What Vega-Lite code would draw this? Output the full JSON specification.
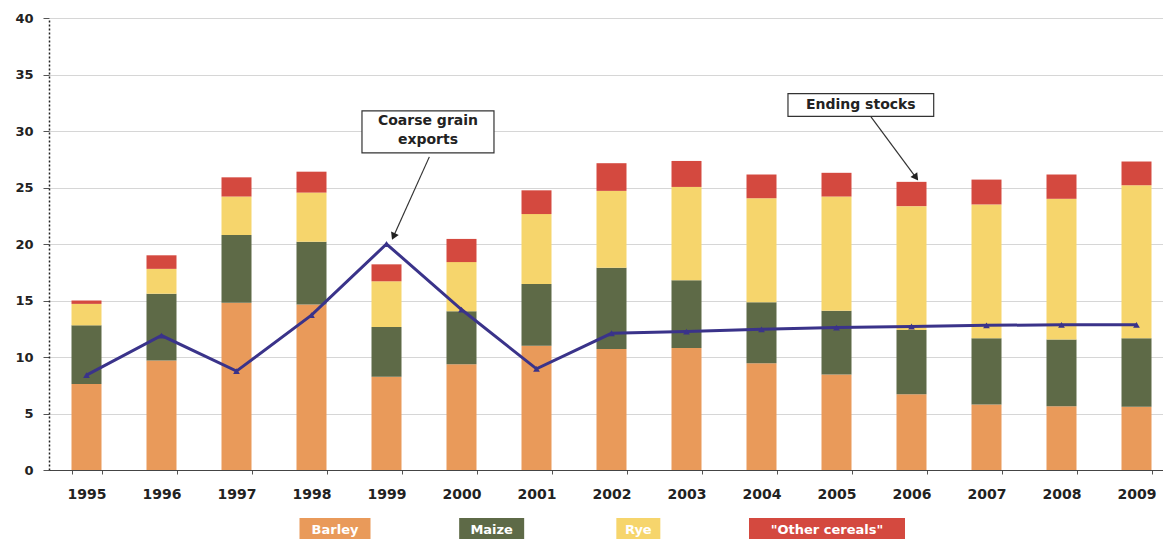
{
  "$schema": "https://vega.github.io/schema/vega-lite/v6.json",
  "background": "white",
  "padding": {"top": 12, "left": 9, "right": 0, "bottom": 0},
  "spacing": 17,
  "config": {
    "view": {"stroke": null},
    "font": "DejaVu Sans"
  },
  "datasets": {
    "grains": [
      {"year": 1995, "Barley": 7.6, "Maize": 5.2, "Rye": 1.9, "Other cereals": 0.3, "exports": 8.4},
      {"year": 1996, "Barley": 9.7, "Maize": 5.9, "Rye": 2.2, "Other cereals": 1.2, "exports": 11.9},
      {"year": 1997, "Barley": 14.8, "Maize": 6.0, "Rye": 3.4, "Other cereals": 1.7, "exports": 8.75},
      {"year": 1998, "Barley": 14.65, "Maize": 5.55, "Rye": 4.35, "Other cereals": 1.85, "exports": 13.7},
      {"year": 1999, "Barley": 8.25, "Maize": 4.4, "Rye": 4.05, "Other cereals": 1.5, "exports": 20.0},
      {"year": 2000, "Barley": 9.35, "Maize": 4.7, "Rye": 4.35, "Other cereals": 2.05, "exports": 14.2},
      {"year": 2001, "Barley": 11.0, "Maize": 5.45, "Rye": 6.2, "Other cereals": 2.1, "exports": 8.95},
      {"year": 2002, "Barley": 10.7, "Maize": 7.2, "Rye": 6.8, "Other cereals": 2.45, "exports": 12.1},
      {"year": 2003, "Barley": 10.8, "Maize": 6.0, "Rye": 8.25, "Other cereals": 2.3, "exports": 12.25},
      {"year": 2004, "Barley": 9.45, "Maize": 5.4, "Rye": 9.2, "Other cereals": 2.1, "exports": 12.45},
      {"year": 2005, "Barley": 8.45, "Maize": 5.65, "Rye": 10.1, "Other cereals": 2.1, "exports": 12.6},
      {"year": 2006, "Barley": 6.7, "Maize": 5.7, "Rye": 10.95, "Other cereals": 2.15, "exports": 12.7},
      {"year": 2007, "Barley": 5.8, "Maize": 5.85, "Rye": 11.85, "Other cereals": 2.2, "exports": 12.8},
      {"year": 2008, "Barley": 5.65, "Maize": 5.9, "Rye": 12.45, "Other cereals": 2.15, "exports": 12.85},
      {"year": 2009, "Barley": 5.6, "Maize": 6.05, "Rye": 13.55, "Other cereals": 2.1, "exports": 12.85}
    ],
    "callouts": [
      {"x0": 1998.673, "x1": 2000.433, "y0": 28.06, "y1": 31.78, "cx": 1999.553, "cy": 30.9, "label": "Coarse grain\nexports"},
      {"x0": 2004.353, "x1": 2006.296, "y0": 31.3, "y1": 33.31, "cx": 2005.324, "cy": 32.3, "label": "Ending stocks"}
    ],
    "pointers": [
      {"target": "exports", "x0": 1999.571, "y0": 27.71, "x1": 1999.093, "y1": 20.66},
      {"target": "stocks", "x0": 2005.46, "y0": 31.25, "x1": 2006.06, "y1": 25.88}
    ],
    "keys": [
      {"grain": "Barley", "label": "Barley"},
      {"grain": "Maize", "label": "Maize"},
      {"grain": "Rye", "label": "Rye"},
      {"grain": "Other cereals", "label": "\"Other cereals\""}
    ]
  },
  "vconcat": [
    {
      "width": 1125,
      "height": 452,
      "layer": [
        {
          "layer": [
            {
              "data": {"name": "grains"},
              "transform": [
                {"fold": ["Barley", "Maize", "Rye", "Other cereals"], "as": ["grain", "value"]},
                {"calculate": "indexof(['Barley', 'Maize', 'Rye', 'Other cereals'], datum.grain)", "as": "stackRank"}
              ],
              "mark": {"type": "bar", "width": {"band": 1}},
              "encoding": {
                "x": {
                  "field": "year",
                  "type": "ordinal",
                  "scale": {"paddingInner": 0.6, "paddingOuter": 0.3},
                  "axis": {
                    "title": null,
                    "labelAngle": 0,
                    "tickBand": "extent",
                    "labelFont": "DejaVu Sans",
                    "labelFontWeight": "bold",
                    "labelFontSize": 14,
                    "labelColor": "#222222",
                    "labelPadding": 13,
                    "tickSize": 4,
                    "tickColor": "#555555",
                    "domainColor": "#444444",
                    "domainWidth": 1.2
                  }
                },
                "y": {
                  "field": "value",
                  "type": "quantitative",
                  "stack": "zero",
                  "scale": {"domain": [0, 40], "nice": false},
                  "axis": {
                    "title": null,
                    "values": [0, 5, 10, 15, 20, 25, 30, 35, 40],
                    "labelFont": "DejaVu Sans",
                    "labelFontWeight": "bold",
                    "labelFontSize": 13,
                    "labelColor": "#222222",
                    "labelPadding": 10,
                    "tickSize": 6,
                    "tickColor": "#555555",
                    "domainColor": "#222222",
                    "domainDash": [2, 2],
                    "domainWidth": 1.5,
                    "gridColor": "#d6d6d6",
                    "gridWidth": 1,
                    "minExtent": 40,
                    "maxExtent": 40
                  }
                },
                "color": {
                  "field": "grain",
                  "type": "nominal",
                  "scale": {
                    "domain": ["Barley", "Maize", "Rye", "Other cereals"],
                    "range": ["#E99A5A", "#5E6A47", "#F6D56C", "#D4493F"]
                  },
                  "legend": null
                },
                "order": {"field": "stackRank", "type": "quantitative", "sort": "ascending"}
              }
            },
            {
              "data": {"name": "grains"},
              "mark": {
                "type": "line",
                "color": "#3A338A",
                "strokeWidth": 3,
                "point": {"shape": "triangle-up", "size": 45, "filled": true, "color": "#3A338A"}
              },
              "encoding": {
                "x": {"field": "year", "type": "ordinal"},
                "y": {"field": "exports", "type": "quantitative", "scale": {"domain": [0, 40], "nice": false}, "title": null}
              }
            }
          ]
        },
        {
          "layer": [
            {
              "data": {"name": "callouts"},
              "mark": {"type": "rect", "fill": "white", "stroke": "#333333", "strokeWidth": 1.2},
              "encoding": {
                "x": {"field": "x0", "type": "quantitative", "scale": {"domain": [1994.5, 2009.5], "nice": false, "zero": false}, "axis": null},
                "x2": {"field": "x1"},
                "y": {"field": "y0", "type": "quantitative", "scale": {"domain": [0, 40], "nice": false}, "title": null},
                "y2": {"field": "y1"}
              }
            },
            {
              "data": {"name": "callouts"},
              "mark": {"type": "text", "font": "DejaVu Sans", "fontWeight": "bold", "fontSize": 14, "color": "#222222", "lineBreak": "\n", "lineHeight": 19, "baseline": "middle", "align": "center"},
              "encoding": {
                "x": {"field": "cx", "type": "quantitative", "scale": {"domain": [1994.5, 2009.5], "nice": false, "zero": false}, "axis": null},
                "y": {"field": "cy", "type": "quantitative", "scale": {"domain": [0, 40], "nice": false}, "title": null},
                "text": {"field": "label"}
              }
            },
            {
              "data": {"name": "pointers"},
              "mark": {"type": "rule", "color": "#333333", "strokeWidth": 1.2},
              "encoding": {
                "x": {"field": "x0", "type": "quantitative", "scale": {"domain": [1994.5, 2009.5], "nice": false, "zero": false}, "axis": null},
                "x2": {"field": "x1"},
                "y": {"field": "y0", "type": "quantitative", "scale": {"domain": [0, 40], "nice": false}, "title": null},
                "y2": {"field": "y1"}
              }
            },
            {
              "data": {"name": "pointers"},
              "mark": {"type": "point", "shape": "triangle-up", "filled": true, "color": "#222222", "size": 70, "opacity": 1},
              "encoding": {
                "x": {"field": "x1", "type": "quantitative", "scale": {"domain": [1994.5, 2009.5], "nice": false, "zero": false}, "axis": null},
                "y": {"field": "y1", "type": "quantitative", "scale": {"domain": [0, 40], "nice": false}, "title": null},
                "angle": {
                  "field": "target",
                  "type": "nominal",
                  "scale": {"domain": ["exports", "stocks"], "range": [203.7, 143.7]},
                  "legend": null
                }
              }
            }
          ]
        }
      ],
      "resolve": {"scale": {"x": "independent"}}
    },
    {
      "width": 1125,
      "height": 24,
      "data": {"name": "keys"},
      "encoding": {
        "x": {
          "field": "grain",
          "type": "nominal",
          "scale": {"type": "point", "domain": ["Barley", "Maize", "Rye", "Other cereals"], "range": [280, 768], "padding": 0},
          "axis": null
        },
        "color": {
          "field": "grain",
          "type": "nominal",
          "scale": {
            "domain": ["Barley", "Maize", "Rye", "Other cereals"],
            "range": ["#E99A5A", "#5E6A47", "#F6D56C", "#D4493F"]
          },
          "legend": null
        }
      },
      "layer": [
        {"transform": [{"filter": "datum.grain === 'Barley'"}], "mark": {"type": "bar", "width": 71, "xOffset": 6}},
        {"transform": [{"filter": "datum.grain === 'Maize'"}], "mark": {"type": "bar", "width": 65}},
        {"transform": [{"filter": "datum.grain === 'Rye'"}], "mark": {"type": "bar", "width": 44, "xOffset": -16}},
        {"transform": [{"filter": "datum.grain === 'Other cereals'"}], "mark": {"type": "bar", "width": 156, "xOffset": 10}},
        {
          "transform": [{"filter": "datum.grain === 'Barley'"}],
          "mark": {"type": "text", "font": "DejaVu Sans", "fontWeight": "bold", "fontSize": 13, "baseline": "middle", "xOffset": 6},
          "encoding": {"text": {"field": "label"}, "color": {"value": "white"}}
        },
        {
          "transform": [{"filter": "datum.grain === 'Maize'"}],
          "mark": {"type": "text", "font": "DejaVu Sans", "fontWeight": "bold", "fontSize": 13, "baseline": "middle"},
          "encoding": {"text": {"field": "label"}, "color": {"value": "white"}}
        },
        {
          "transform": [{"filter": "datum.grain === 'Rye'"}],
          "mark": {"type": "text", "font": "DejaVu Sans", "fontWeight": "bold", "fontSize": 13, "baseline": "middle", "xOffset": -16},
          "encoding": {"text": {"field": "label"}, "color": {"value": "white"}}
        },
        {
          "transform": [{"filter": "datum.grain === 'Other cereals'"}],
          "mark": {"type": "text", "font": "DejaVu Sans", "fontWeight": "bold", "fontSize": 13, "baseline": "middle", "xOffset": 10},
          "encoding": {"text": {"field": "label"}, "color": {"value": "white"}}
        }
      ]
    }
  ]
}
